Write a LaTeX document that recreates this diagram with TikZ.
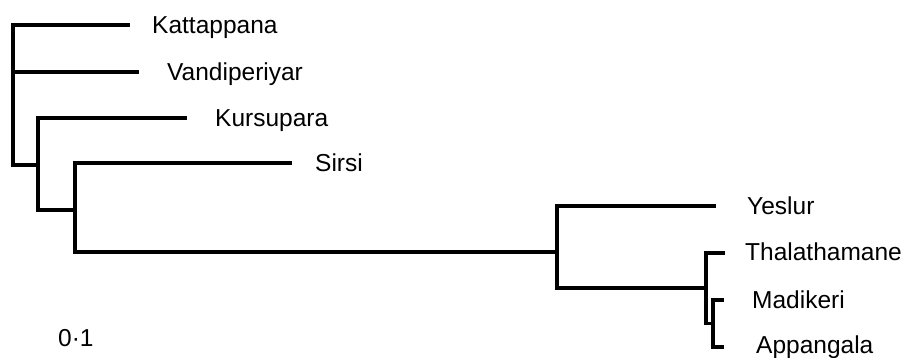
\documentclass[tikz,border=0pt]{standalone}
\usepackage{fontspec}
\setmainfont{Liberation Sans}
\begin{document}
\begin{tikzpicture}[x=1pt,y=-1pt,
  branch/.style={line width=3.3pt, line join=miter, line cap=rect},
  leaf/.style={anchor=base west, inner sep=0pt, font=\fontsize{24.5}{24.5}\selectfont}]
\useasboundingbox (0,0) rectangle (907,357);
% leaf ends
\coordinate (kE) at (128,25);
\coordinate (vE) at (137,72);
\coordinate (kuE) at (185,118);
\coordinate (sE) at (290,163);
\coordinate (yE) at (714,206);
\coordinate (tE) at (723,253);
\coordinate (mE) at (722,300);
\coordinate (aE) at (722,347);
% internal nodes
\coordinate (r) at (13,165);
\coordinate (n1) at (38,165);
\coordinate (n2) at (75,210);
\coordinate (n3) at (557,252);
\coordinate (n4) at (706,288);
\coordinate (n5) at (713,323.5);
% branches
\draw[branch] (kE) -| (r) |- (n1);
\draw[branch] (r |- vE) -- (vE);
\draw[branch] (kuE) -| (n1) |- (n2);
\draw[branch] (sE) -| (n2) |- (n3);
\draw[branch] (yE) -| (n3) |- (n4);
\draw[branch] (tE) -| (n4) |- (n5);
\draw[branch] (mE) -| (n5) |- (aE);
% labels
\node[leaf] (kL) at (152,33) {Kattappana};
\node[leaf] (vL) at (167,80) {Vandiperiyar};
\node[leaf] (kuL) at (215,126) {Kursupara};
\node[leaf] (sL) at (315,171) {Sirsi};
\node[leaf] (yL) at (747,214) {Yeslur};
\node[leaf] (tL) at (745,260) {Thalathamane};
\node[leaf] (mL) at (752,308) {Madikeri};
\node[leaf] (aL) at (756,353) {Appangala};
\node[leaf] (scale) at (58,346) {0·1};
\end{tikzpicture}
\end{document}
